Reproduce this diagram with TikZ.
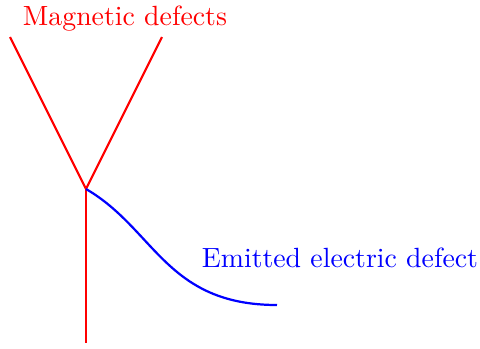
\documentclass[tikz,border=0pt]{standalone}
\begin{document}
\begin{tikzpicture}[x=0.3597pt,y=-0.3597pt,
  magline/.style={draw=red,thick},
  elline/.style={draw=blue,thick},
  lbl/.style={inner sep=0pt,anchor=base}]
\useasboundingbox (0,0) rectangle (480,348);
\coordinate (j) at (86,189);
\coordinate (a) at (10,37);
\coordinate (b) at (162,37);
\coordinate (c) at (86,343);
\coordinate (e) at (277,305);
\draw[magline] (a) -- (j) -- (b);
\draw[magline] (j) -- (c);
\draw[elline] (j) .. controls (155,229) and (166,305) .. (e);
\node[lbl,text=red] (mt) at (125,25) {Magnetic defects};
\node[lbl,text=blue] (et) at (340,267) {Emitted electric defect};
\end{tikzpicture}
\end{document}
